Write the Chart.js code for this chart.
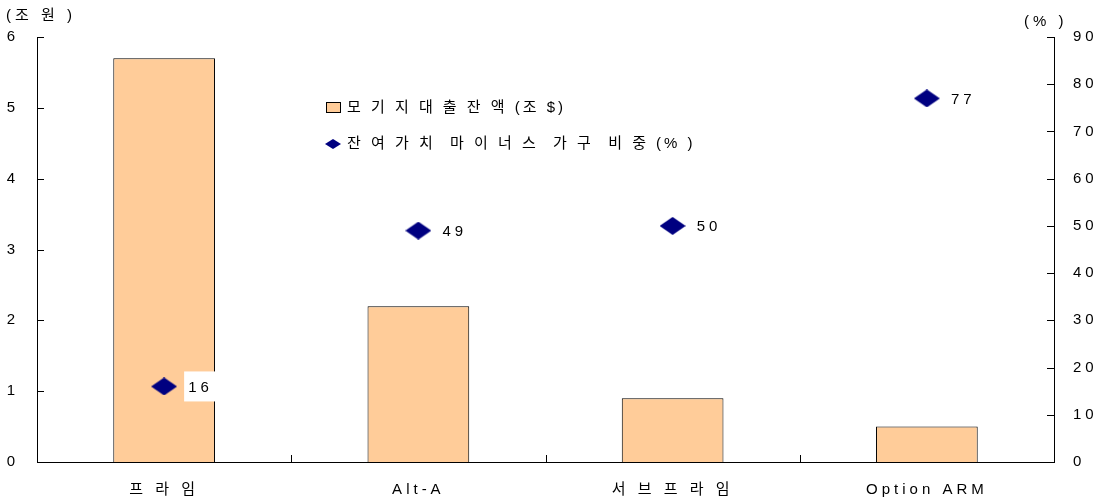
<!DOCTYPE html>
<html>
<head>
<meta charset="utf-8">
<script src="https://cdn.jsdelivr.net/npm/chart.js@4"></script>
<style>
  html, body { margin: 0; padding: 0; background: #fff; }
  #wrap { width: 1104px; height: 499px; position: relative; }
</style>
</head>
<body>
<div id="wrap"><canvas id="chart"></canvas></div>
<script>
const categories = ['프 라 임', 'Alt-A', '서 브 프 라 임', 'Option ARM'];
const loanBalance = [5.7, 2.2, 0.9, 0.5];        // 조 $
const negativeEquityShare = [16, 49, 50, 77];    // %
const leftTicks = [0, 1, 2, 3, 4, 5, 6];
const rightTicks = [0, 10, 20, 30, 40, 50, 60, 70, 80, 90];
const seriesNames = ['모 기 지 대 출 잔 액 (조 $)', '잔 여 가 치  마 이 너 스  가 구  비 중 (% )'];

const FONT = "'Liberation Sans', Arial, 'Noto Sans CJK KR', sans-serif";
const SPACING = '4px';

Chart.defaults.font.family = FONT;
Chart.defaults.font.size = 15;
Chart.defaults.color = '#000';

// flattened diamond marker
function makeDiamond(w, h) {
    const c = document.createElement('canvas');
    c.width = w; c.height = h;
    const g = c.getContext('2d');
    g.fillStyle = '#000080';
    g.beginPath();
    g.moveTo(0, h / 2); g.lineTo(w / 2, 0); g.lineTo(w, h / 2); g.lineTo(w / 2, h);
    g.closePath();
    g.fill();
    return c;
}
const diamond = makeDiamond(26, 18);
const smallDiamond = makeDiamond(16, 10);

function setSpacing(chart) { chart.ctx.letterSpacing = SPACING; }

const extras = {
    id: 'extras',
    beforeUpdate: setSpacing,
    beforeLayout: setSpacing,
    beforeDraw: setSpacing,
    afterDatasetsDraw(chart) {
        const ctx = chart.ctx;
        ctx.save();
        ctx.letterSpacing = SPACING;
        ctx.font = '15px ' + FONT;
        ctx.textBaseline = 'middle';
        // value labels next to diamonds
        const meta = chart.getDatasetMeta(1);
        meta.data.forEach((pt, i) => {
            ctx.fillStyle = '#fff';
            ctx.fillRect(pt.x + 20, pt.y - 15, 34, 30);
            ctx.fillStyle = '#000';
            ctx.textAlign = 'left';
            ctx.fillText(String(negativeEquityShare[i]), pt.x + 24, pt.y + 1);
        });
        ctx.restore();
    },
    afterDraw(chart) {
        const ctx = chart.ctx;
        const { y, y1 } = chart.scales;
        const area = chart.chartArea;
        ctx.save();
        ctx.strokeStyle = '#000';
        ctx.lineWidth = 1;
        ctx.beginPath();
        // inner tick marks
        leftTicks.forEach(v => {
            const py = Math.round(y.getPixelForValue(v)) + 0.5;
            ctx.moveTo(area.left, py); ctx.lineTo(area.left + 7, py);
        });
        rightTicks.forEach(v => {
            const py = Math.round(y1.getPixelForValue(v)) + 0.5;
            ctx.moveTo(area.right - 7, py); ctx.lineTo(area.right, py);
        });
        const step = (area.right - area.left) / categories.length;
        for (let i = 1; i < categories.length; i++) {
            const px = Math.round(area.left + step * i) + 0.5;
            ctx.moveTo(px, area.bottom); ctx.lineTo(px, area.bottom - 7);
        }
        ctx.stroke();

        // axis titles
        ctx.letterSpacing = SPACING;
        ctx.font = '15px ' + FONT;
        ctx.fillStyle = '#000';
        ctx.textBaseline = 'middle';
        ctx.textAlign = 'left';
        ctx.fillText('(조 원 )', 6, 16);
        ctx.fillText('(% )', 1024, 22);

        // legend
        ctx.fillStyle = '#FFCC99';
        ctx.fillRect(326.5, 102.5, 14, 10);
        ctx.strokeStyle = '#000';
        ctx.strokeRect(326.5, 102.5, 14, 10);
        ctx.drawImage(smallDiamond, 325, 139);
        ctx.letterSpacing = '3px';
        ctx.fillStyle = '#000';
        ctx.fillText(seriesNames[0], 347, 108);
        ctx.fillText(seriesNames[1], 347, 144);
        ctx.restore();
    }
};

new Chart(document.getElementById('chart'), {
    type: 'bar',
    data: {
        labels: categories,
        datasets: [
            {
                type: 'bar',
                label: seriesNames[0],
                data: loanBalance,
                backgroundColor: '#FFCC99',
                borderColor: '#000',
                borderWidth: 1,
                yAxisID: 'y',
                categoryPercentage: 1,
                barPercentage: 0.4,
                order: 2
            },
            {
                type: 'line',
                label: seriesNames[1],
                data: negativeEquityShare,
                showLine: false,
                pointStyle: diamond,
                pointRadius: 13,
                yAxisID: 'y1',
                order: 1
            }
        ]
    },
    options: {
        responsive: true,
        maintainAspectRatio: false,
        animation: false,
        layout: { padding: { top: 37, left: 0, right: 0, bottom: 0 } },
        plugins: { legend: { display: false }, tooltip: { enabled: false } },
        scales: {
            x: {
                grid: { display: false },
                border: { color: '#000', width: 1 },
                ticks: { padding: 11, color: '#000', maxRotation: 0 },
                afterFit(s) { s.height = 37; }
            },
            y: {
                position: 'left',
                min: 0, max: 6,
                afterBuildTicks(s) { s.ticks = leftTicks.map(v => ({ value: v })); },
                grid: { display: false, drawTicks: false },
                border: { color: '#000', width: 1 },
                ticks: { padding: 18, color: '#000' },
                afterFit(s) { s.width = 37; }
            },
            y1: {
                position: 'right',
                min: 0, max: 90,
                afterBuildTicks(s) { s.ticks = rightTicks.map(v => ({ value: v })); },
                grid: { display: false, drawTicks: false },
                border: { color: '#000', width: 1 },
                ticks: { padding: 19, color: '#000' },
                afterFit(s) { s.width = 50; }
            }
        }
    },
    plugins: [extras]
});
</script>
</body>
</html>
